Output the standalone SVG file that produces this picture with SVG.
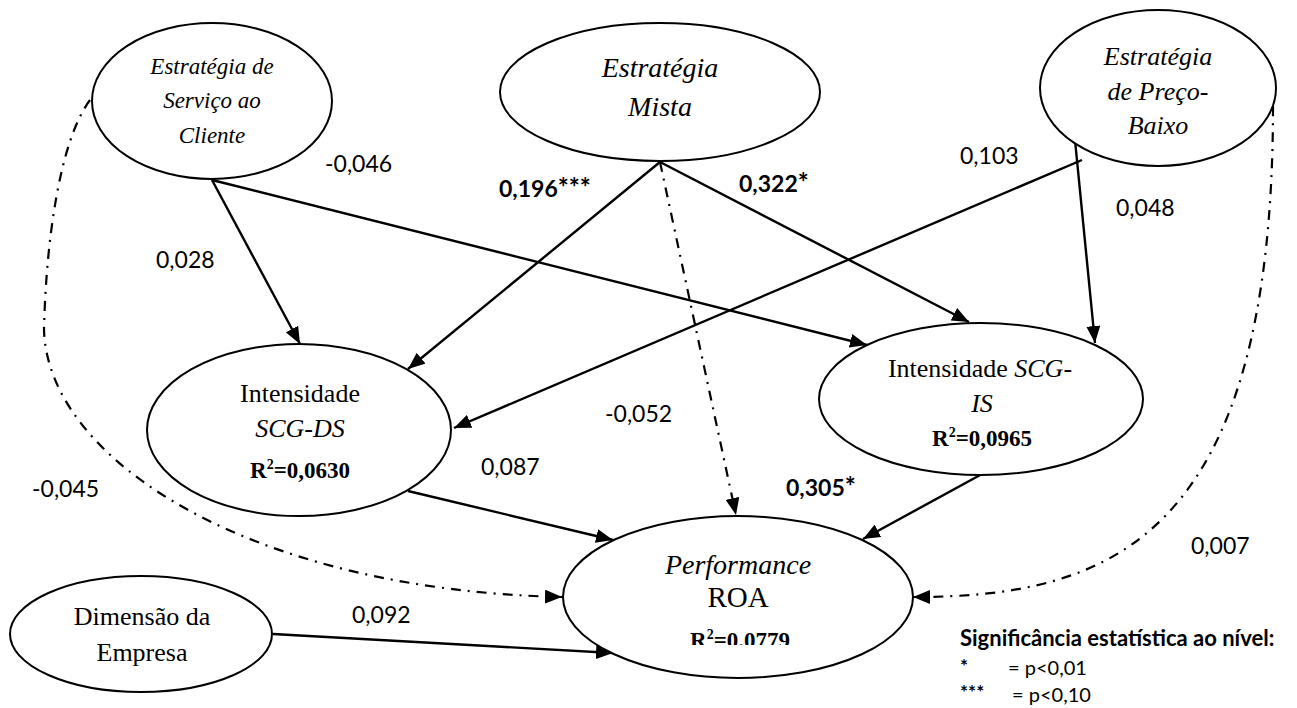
<svg xmlns="http://www.w3.org/2000/svg" width="1297" height="708" viewBox="0 0 1297 708">
  <style>
    .node ellipse { fill: #fff; stroke: #000; stroke-width: 2; }
    .serif { font-family: "Liberation Serif", "Times New Roman", serif; fill: #000; text-anchor: middle; }
    .it { font-style: italic; }
    .bd { font-weight: bold; }
    .lbl { font-family: Lato, "Open Sans", "Liberation Sans", sans-serif; font-size: 23px; fill: #000; }
    .lbl.bd { font-weight: bold; }
    .star { font-size: 26px; }
    .edge { fill: none; stroke: #000; stroke-width: 2.4; }
    .edge.dd { stroke-width: 2.2; stroke-dasharray: 10 7 2 7; }
    .legend { font-family: Lato, "Open Sans", "Liberation Sans", sans-serif; fill: #000; }
  </style>
  <defs>
    <marker id="arrow" markerUnits="userSpaceOnUse" markerWidth="18" markerHeight="14" refX="17" refY="7" orient="auto">
      <path d="M0,0 L17,7 L0,14 z" fill="#000"/>
    </marker>
    <clipPath id="roaClip">
      <rect x="560" y="510" width="360" height="135"/>
    </clipPath>
  </defs>

  <rect width="1297" height="708" fill="#fff"/>

  <!-- path connectors -->
  <g id="connectors">
    <line class="edge" x1="212" y1="180" x2="300" y2="344" marker-end="url(#arrow)"/>
    <line class="edge" x1="212" y1="180" x2="867" y2="345" marker-end="url(#arrow)"/>
    <line class="edge" x1="660" y1="162" x2="408" y2="369" marker-end="url(#arrow)"/>
    <line class="edge" x1="660" y1="162" x2="969" y2="322" marker-end="url(#arrow)"/>
    <line class="edge dd" x1="660" y1="162" x2="736" y2="515" marker-end="url(#arrow)"/>
    <line class="edge" x1="1082" y1="160" x2="454" y2="428" marker-end="url(#arrow)"/>
    <line class="edge" x1="1075" y1="140" x2="1095" y2="343" marker-end="url(#arrow)"/>
    <path class="edge dd" d="M1273,106 C1273,540 1110,597 913,597" marker-end="url(#arrow)"/>
    <path class="edge dd" d="M90,100 C60,140 46,240 44,330 C48,460 250,590 562,597" marker-end="url(#arrow)"/>
    <line class="edge" x1="408" y1="491" x2="613" y2="540" marker-end="url(#arrow)"/>
    <line class="edge" x1="982" y1="474" x2="863" y2="539" marker-end="url(#arrow)"/>
    <line class="edge" x1="273" y1="634" x2="613" y2="653" marker-end="url(#arrow)"/>
  </g>

  <!-- path coefficients -->
  <g id="coefficients">
    <text class="lbl" x="325" y="172">-0,046</text>
    <text class="lbl" x="156" y="268">0,028</text>
    <text class="lbl bd" x="499" y="197">0,196<tspan class="star">***</tspan></text>
    <text class="lbl bd" x="739" y="192">0,322<tspan class="star">*</tspan></text>
    <text class="lbl" x="960" y="164">0,103</text>
    <text class="lbl" x="1116" y="216">0,048</text>
    <text class="lbl" x="32" y="497">-0,045</text>
    <text class="lbl" x="352" y="623">0,092</text>
    <text class="lbl" x="605" y="422">-0,052</text>
    <text class="lbl" x="481" y="475">0,087</text>
    <text class="lbl bd" x="786" y="496">0,305<tspan class="star">*</tspan></text>
    <text class="lbl" x="1191" y="554">0,007</text>
  </g>

  <g id="node-servico" class="node">
    <ellipse cx="212" cy="101" rx="120" ry="78"/>
    <text class="serif it" font-size="23" x="212" y="74">Estratégia de</text>
    <text class="serif it" font-size="23" x="212" y="108">Serviço ao</text>
    <text class="serif it" font-size="23" x="212" y="143">Cliente</text>
  </g>

  <g id="node-mista" class="node">
    <ellipse cx="660" cy="92" rx="160" ry="69"/>
    <text class="serif it" font-size="28" x="660" y="77">Estratégia</text>
    <text class="serif it" font-size="28" x="660" y="116">Mista</text>
  </g>

  <g id="node-preco" class="node">
    <ellipse cx="1158" cy="88" rx="118" ry="78"/>
    <text class="serif it" font-size="26" x="1158" y="65">Estratégia</text>
    <text class="serif it" font-size="26" x="1158" y="100">de Preço-</text>
    <text class="serif it" font-size="26" x="1158" y="134">Baixo</text>
  </g>

  <g id="node-scg-ds" class="node">
    <ellipse cx="299" cy="430" rx="152" ry="86"/>
    <text class="serif" font-size="26" x="300" y="402">Intensidade</text>
    <text class="serif it" font-size="26" x="300" y="437">SCG-DS</text>
    <text class="serif bd" font-size="23" x="300" y="478">R<tspan font-size="14" dy="-9">2</tspan><tspan dy="9">=0,0630</tspan></text>
  </g>

  <g id="node-scg-is" class="node">
    <ellipse cx="981" cy="399" rx="162" ry="76"/>
    <text class="serif" font-size="26" x="980" y="377">Intensidade <tspan font-style="italic">SCG-</tspan></text>
    <text class="serif it" font-size="26" x="982" y="412">IS</text>
    <text class="serif bd" font-size="23" x="982" y="446">R<tspan font-size="14" dy="-9">2</tspan><tspan dy="9">=0,0965</tspan></text>
  </g>

  <g id="node-performance" class="node">
    <ellipse cx="738" cy="597" rx="175" ry="81"/>
    <text class="serif it" font-size="28" x="738" y="574">Performance</text>
    <text class="serif" font-size="29" x="738" y="607">ROA</text>
    <text class="serif bd" font-size="23" x="740" y="648" clip-path="url(#roaClip)">R<tspan font-size="14" dy="-9">2</tspan><tspan dy="9">=0.0779</tspan></text>
  </g>

  <g id="node-dimensao" class="node">
    <ellipse cx="141" cy="634" rx="131" ry="58"/>
    <text class="serif" font-size="26" x="142" y="625">Dimensão da</text>
    <text class="serif" font-size="26" x="142" y="661">Empresa</text>
  </g>

  <!-- significance key -->
  <g id="legend" class="legend">
    <text x="960" y="646" font-size="22" font-weight="bold">Significância estatística ao nível:</text>
    <text x="960" y="673" font-size="19" font-weight="bold">*</text>
    <text x="1008" y="675" font-size="20">=  p&lt;0,01</text>
    <text x="960" y="699" font-size="19" font-weight="bold">***</text>
    <text x="1012" y="702" font-size="20">= p&lt;0,10</text>
  </g>
</svg>
